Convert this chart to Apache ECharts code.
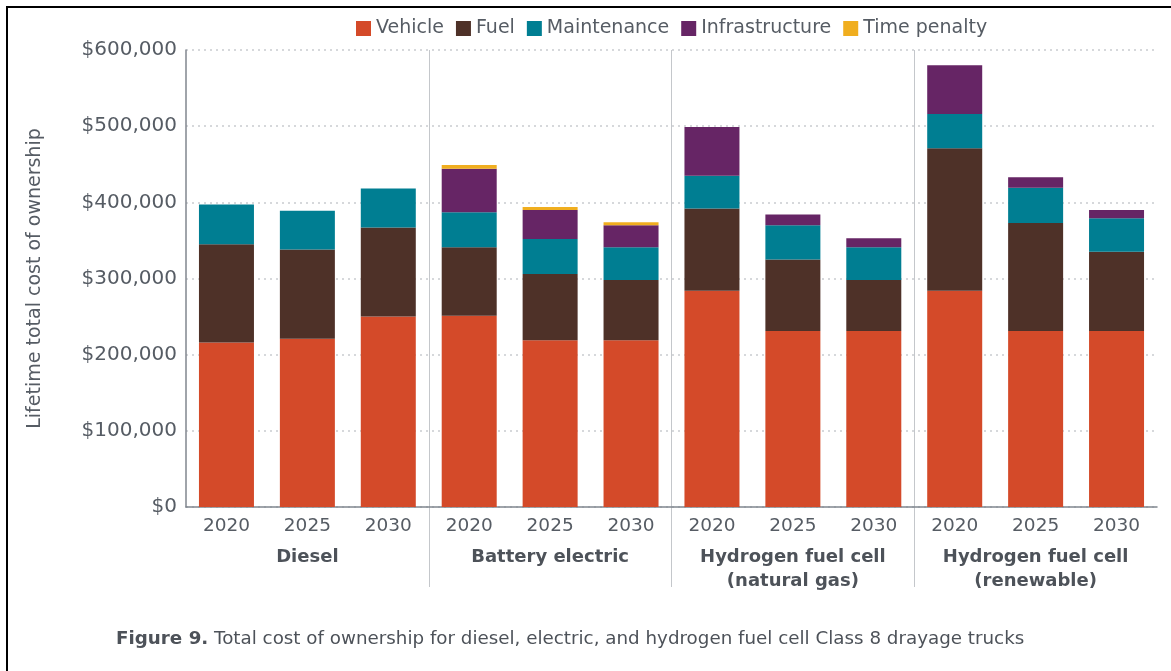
<!DOCTYPE html>
<html>
<head>
<meta charset="utf-8">
<title>Total cost of ownership - Class 8 drayage trucks</title>
<script src="https://cdn.jsdelivr.net/npm/echarts@6/dist/echarts.min.js"></script>
<style>
  * { margin: 0; padding: 0; }
  body { background: #fff; }
  #main { width: 1171px; height: 671px; position: relative; }
  /* black frame at the top and left, like the scanned figure */
  #frame {
    position: absolute; left: 6px; top: 6px; right: 0; bottom: 0;
    border-top: 2px solid #000; border-left: 2px solid #000;
    pointer-events: none;
  }
</style>
</head>
<body>
<div id="main"></div>
<div id="frame"></div>
<script>
  // year categories, 3 per truck type
  var years = ['2020', '2025', '2030', '2020', '2025', '2030', '2020', '2025', '2030', '2020', '2025', '2030'];
  var groups = ['Diesel', 'Battery electric', 'Hydrogen fuel cell\n(natural gas)', 'Hydrogen fuel cell\n(renewable)'];

  // cost components, USD
  var vehicle        = [216000, 221000, 250000, 251000, 219000, 219000, 284000, 231000, 231000, 284000, 231000, 231000];
  var fuel           = [129000, 117000, 117000,  90000,  87000,  79000, 108000,  94000,  67000, 187000, 142000, 104000];
  var maintenance    = [ 52000,  51000,  51000,  46000,  46000,  43000,  43000,  45000,  43000,  45000,  46000,  44000];
  var infrastructure = [     0,      0,      0,  57000,  38000,  29000,  64000,  14000,  12000,  64000,  14000,  11000];
  var timePenalty    = [     0,      0,      0,   5000,   4000,   4000,      0,      0,      0,      0,      0,      0];

  var yTicks = [0, 600000, 100000]; // min, max, step

  var font = 'DejaVu Sans';
  var txt = '#565c64';

  function money(v) {
    return '$' + v.toString().replace(/\B(?=(\d{3})+(?!\d))/g, ',');
  }

  function bar(name, data, color) {
    return {
      name: name,
      type: 'bar',
      stack: 'tco',
      barWidth: 55,
      xAxisIndex: 0,
      yAxisIndex: 0,
      itemStyle: { color: color },
      data: data
    };
  }

  var mycharts = echarts.init(document.getElementById('main'));
  var option = {
    animation: false,
    textStyle: { fontFamily: font },
    title: {
      text: '{b|Figure 9.} Total cost of ownership for diesel, electric, and hydrogen fuel cell Class 8 drayage trucks',
      left: 111,
      top: 625,
      textStyle: {
        fontFamily: font,
        fontSize: 18.3,
        fontWeight: 'normal',
        color: '#4d5259',
        rich: {
          b: { fontFamily: font, fontSize: 18.3, fontWeight: 'bold', color: '#4d5259' }
        }
      }
    },
    legend: {
      left: 351,
      top: 14,
      icon: 'rect',
      itemWidth: 15,
      itemHeight: 15,
      itemGap: 12,
      textStyle: { fontFamily: font, fontSize: 19, color: txt },
      data: ['Vehicle', 'Fuel', 'Maintenance', 'Infrastructure', 'Time penalty']
    },
    grid: [
      { left: 186, right: 14, top: 50, bottom: 164 },
      // strip under the plot, only used to carry the group separators down
      { left: 186, right: 14, top: 507, height: 80 }
    ],
    xAxis: [
      {
        type: 'category',
        gridIndex: 0,
        data: years,
        axisLine: { lineStyle: { color: '#80868e', width: 1.5 } },
        axisTick: { show: false },
        axisLabel: { color: txt, fontSize: 18.5, margin: 10 }
      },
      {
        type: 'category',
        gridIndex: 0,
        position: 'bottom',
        data: groups,
        axisLine: { show: false },
        axisTick: { show: false },
        axisLabel: { color: '#4d5259', fontSize: 18, fontWeight: 'bold', margin: 38, lineHeight: 24 },
        splitLine: { show: true, showMinLine: false, showMaxLine: false, lineStyle: { color: '#c4c7cb', width: 1 } }
      },
      {
        type: 'category',
        gridIndex: 1,
        data: groups,
        axisLine: { show: false },
        axisTick: { show: false },
        axisLabel: { show: false },
        splitLine: { show: true, showMinLine: false, showMaxLine: false, lineStyle: { color: '#c4c7cb', width: 1 } }
      }
    ],
    yAxis: [
      {
        type: 'value',
        gridIndex: 0,
        min: yTicks[0],
        max: yTicks[1],
        interval: yTicks[2],
        name: 'Lifetime total cost of ownership',
        nameLocation: 'middle',
        nameGap: 141,
        nameRotate: 90,
        nameTextStyle: { color: txt, fontSize: 19 },
        axisLine: { show: true, lineStyle: { color: '#80868e', width: 1.5 } },
        axisTick: { show: false },
        axisLabel: { color: txt, fontSize: 20, margin: 9, formatter: money },
        splitLine: { lineStyle: { color: '#c9cccf', type: [2, 4], width: 1.5 } }
      },
      { type: 'value', gridIndex: 1, show: false, min: 0, max: 1 }
    ],
    series: [
      bar('Vehicle', vehicle, '#d44a29'),
      bar('Fuel', fuel, '#4e3128'),
      bar('Maintenance', maintenance, '#007e92'),
      bar('Infrastructure', infrastructure, '#662565'),
      bar('Time penalty', timePenalty, '#f0ae1f')
    ]
  };
  mycharts.setOption(option);
</script>
</body>
</html>
